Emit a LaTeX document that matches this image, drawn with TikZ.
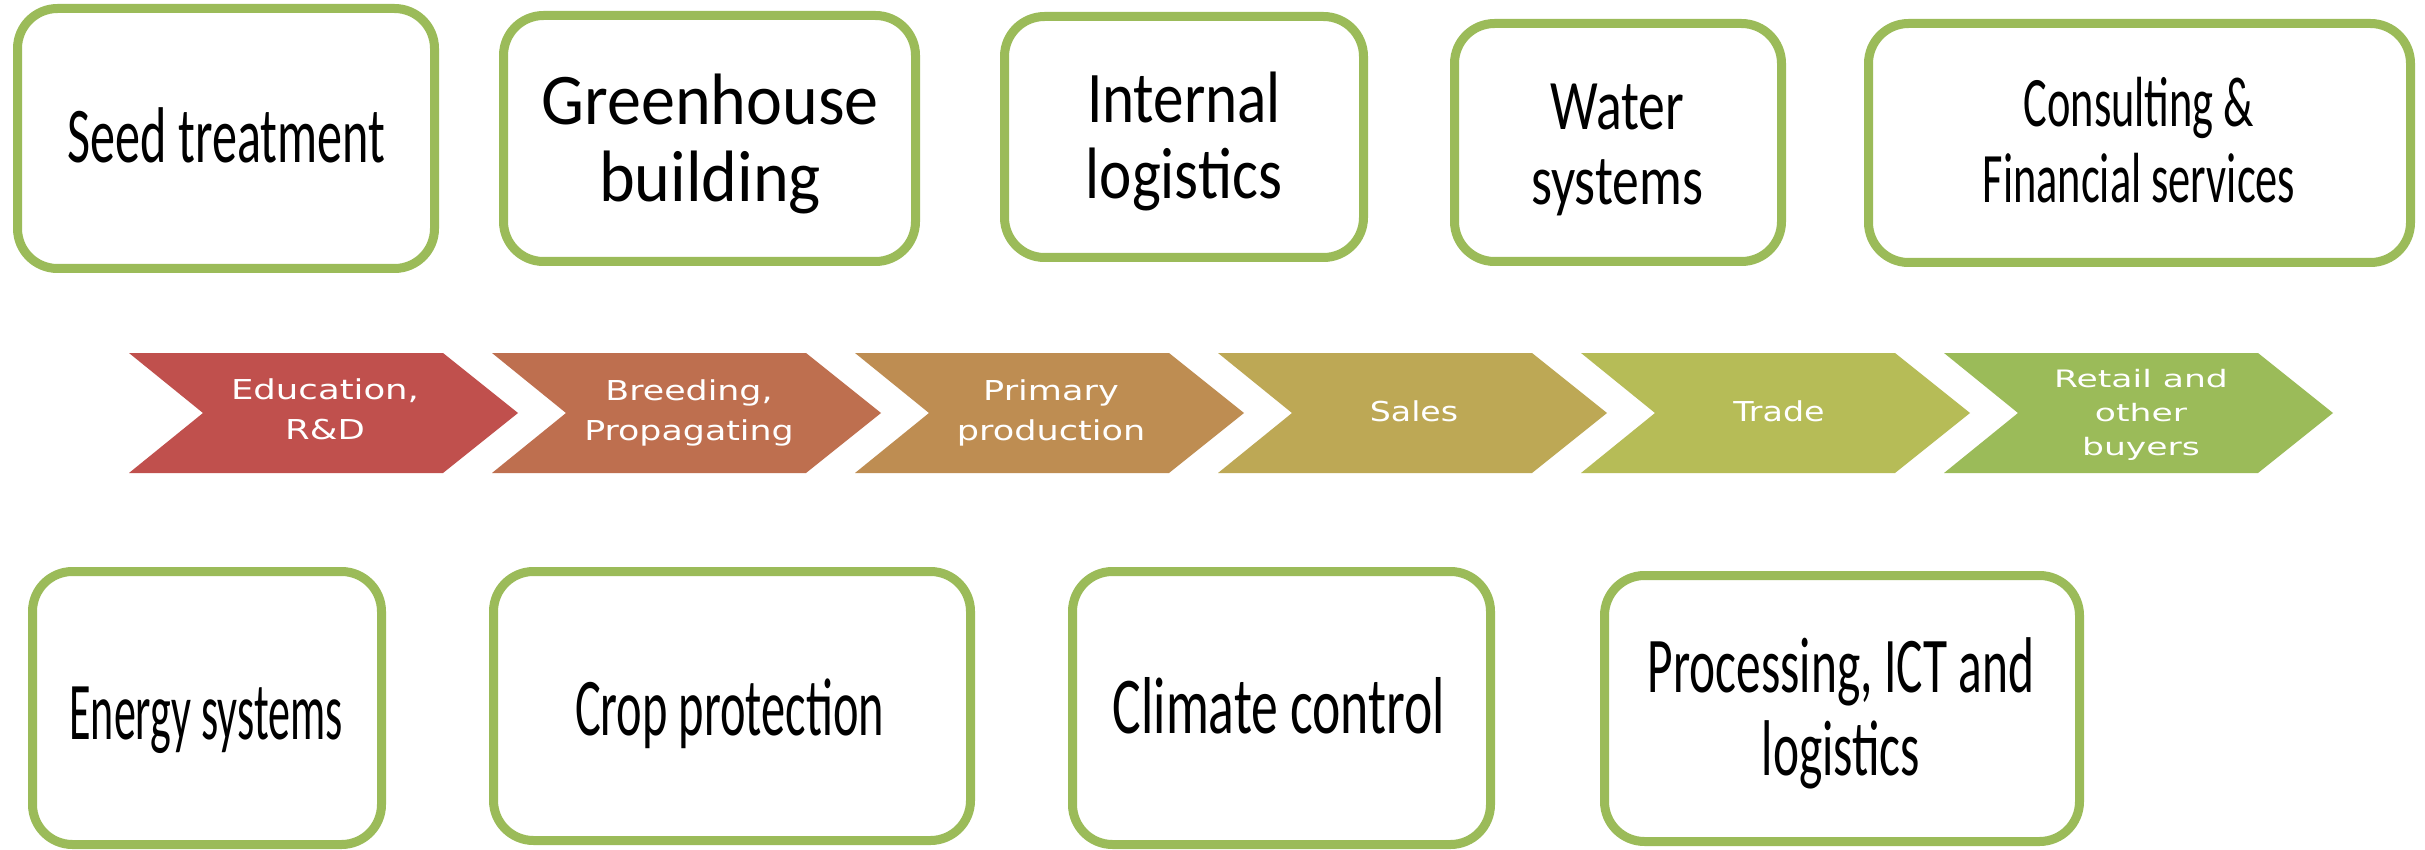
\documentclass[tikz,border=0pt]{standalone}
\usepackage{fontspec}
\usepackage{graphicx}
\setmainfont{Carlito}
\newfontfamily\chevfont{DejaVu Sans}
\newcommand{\hsq}[2]{\scalebox{#1}[1]{#2}}
\definecolor{boxgreen}{RGB}{155,187,89}
\definecolor{chA}{RGB}{192,80,77}
\definecolor{chB}{RGB}{190,111,79}
\definecolor{chC}{RGB}{190,141,82}
\definecolor{chD}{RGB}{189,168,85}
\definecolor{chE}{RGB}{182,188,87}
\definecolor{chF}{RGB}{155,187,89}
\begin{document}
\begin{tikzpicture}[x=1pt,y=-1pt,
  box/.style={draw=boxgreen, line width=9pt, rounded corners=40pt, fill=white, inner sep=0pt},
  btext/.style={inner sep=0pt, align=center, text=black},
  ctext/.style={inner sep=0pt, align=center, text=white, font=\chevfont\fontsize{27.4}{40}\selectfont},
]
\useasboundingbox[fill=white] (0,0) rectangle (2425,850);

% top row boxes
\node[box, minimum width=417pt, minimum height=260pt] (seed) at (226,138.5) {};
\node[box, minimum width=412pt, minimum height=246pt] (green) at (709.5,138.5) {};
\node[box, minimum width=359pt, minimum height=241pt] (intl) at (1184,137) {};
\node[box, minimum width=327pt, minimum height=238pt] (water) at (1618,142.5) {};
\node[box, minimum width=542pt, minimum height=239pt] (cons) at (2139.5,143) {};
% bottom row boxes
\node[box, minimum width=349pt, minimum height=273pt] (energy) at (207,708) {};
\node[box, minimum width=477pt, minimum height=269pt] (crop) at (732,706) {};
\node[box, minimum width=418pt, minimum height=273pt] (clim) at (1281.5,708) {};
\node[box, minimum width=475pt, minimum height=266pt] (proc) at (1842,708.5) {};

% box texts
\node[btext, font=\fontsize{79}{85}\selectfont] (seedT) at (226.5,135.3) {\hsq{0.635}{Seed treatment}};
\node[btext, font=\fontsize{72.8}{77}\selectfont] (greenT) at (710,143.7) {\hsq{0.935}{Greenhouse}\\\hsq{0.935}{building}};
\node[btext, font=\fontsize{72.8}{76}\selectfont] (intlT) at (1184,141.2) {\hsq{0.84}{Internal}\\\hsq{0.84}{logistics}};
\node[btext, font=\fontsize{71}{75}\selectfont] (waterT) at (1617,149.5) {\hsq{0.755}{Water}\\\hsq{0.755}{systems}};
\node[btext, font=\fontsize{71}{76}\selectfont] (consT) at (2139,140.2) {\hsq{0.625}{Consulting \&}\\\hsq{0.625}{Financial services}};
\node[btext, font=\fontsize{82}{88}\selectfont] (energyT) at (206,720.7) {\hsq{0.537}{Energy systems}};
\node[btext, font=\fontsize{82}{88}\selectfont] (cropT) at (729.5,713.6) {\hsq{0.59}{Crop protection}};
\node[btext, font=\fontsize{80.7}{86}\selectfont] (climT) at (1279,705.8) {\hsq{0.665}{Climate control}};
\node[btext, font=\fontsize{79}{83}\selectfont] (procT) at (1841,713.2) {\hsq{0.625}{Processing, ICT and}\\\hsq{0.625}{logistics}};

% chevrons
\foreach \i/\c in {0/chA,1/chB,2/chC,3/chD,4/chE,5/chF}{
  \fill[\c] ({129+363*\i},353) -- ++(314,0) -- ++(75,60) -- ++(-75,60) -- ++(-314,0) -- ++(74,-60) -- cycle;
}
\node[ctext] (edu) at (325,409.6) {\hsq{1.295}{Education,}\\\hsq{1.295}{R\&D}};
\node[ctext] (breed) at (689,412.5) {\hsq{1.27}{Breeding,}\\\hsq{1.27}{Propagating}};
\node[ctext] (prim) at (1051,412.5) {\hsq{1.28}{Primary}\\\hsq{1.28}{production}};
\node[ctext] (sales) at (1414,411.6) {\hsq{1.21}{Sales}};
\node[ctext] (trade) at (1779,411.6) {\hsq{1.215}{Trade}};
\node[ctext, font=\chevfont\fontsize{24}{34}\selectfont] (retail) at (2141,414.4) {\hsq{1.44}{Retail and}\\\hsq{1.44}{other}\\\hsq{1.44}{buyers}};
\end{tikzpicture}
\end{document}
